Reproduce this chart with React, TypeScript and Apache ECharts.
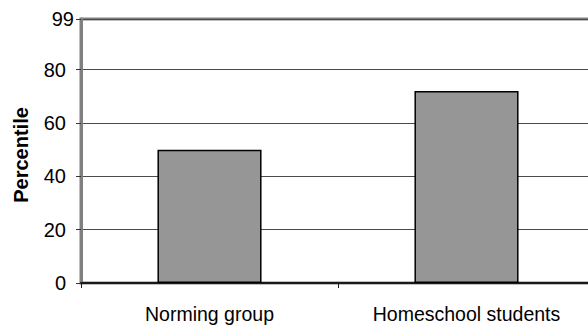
import React, { useEffect, useRef } from "react";
import * as echarts from "echarts";

const categories = ["Norming group", "Homeschool students"];
const percentiles = [50, 72];
const yTicks = [0, 20, 40, 60, 80, 99];

export default function App() {
  const ref = useRef<HTMLDivElement>(null);
  useEffect(() => {
    if (!ref.current) return;
    const chart = echarts.init(ref.current, undefined, { renderer: "svg" });
    const font = "Liberation Sans, Arial, sans-serif";
    chart.setOption({
      animation: false,
      backgroundColor: "#ffffff",
      grid: {
        left: 81,
        top: 19,
        right: 5,
        bottom: 43,
        show: true,
        borderColor: "#808080",
        borderWidth: 3,
        backgroundColor: "transparent",
      },
      xAxis: {
        type: "category",
        data: categories,
        axisLine: { show: true, lineStyle: { color: "#1a1a1a", width: 2 } },
        axisTick: { show: true, length: 5, lineStyle: { color: "#1a1a1a", width: 1 } },
        axisLabel: {
          color: "#000",
          fontFamily: font,
          fontSize: 19.5,
          margin: 21,
        },
      },
      yAxis: {
        type: "value",
        min: yTicks[0],
        max: yTicks[yTicks.length - 1],
        interval: 20,
        name: "Percentile",
        nameLocation: "middle",
        nameGap: 50,
        nameRotate: 90,
        nameTextStyle: {
          color: "#000",
          fontWeight: "bold",
          fontSize: 20,
          fontFamily: font,
          padding: [0, 8, 0, 0],
        },
        axisLine: { show: true, lineStyle: { color: "#808080", width: 3 } },
        axisTick: { show: true, length: 5, lineStyle: { color: "#333", width: 1 } },
        axisLabel: {
          margin: 7,
          formatter: (v: number) => (v === 99 ? "{m|" + v + "}" : "{n|" + v + "}"),
          rich: {
            m: { color: "#000", fontFamily: font, fontSize: 20 },
            n: { color: "#000", fontFamily: font, fontSize: 20, padding: [0, 8, 0, 0] },
          },
        },
        splitLine: { show: true, lineStyle: { color: "#4a4a4a", width: 1 } },
      },
      series: [
        {
          type: "bar",
          data: percentiles,
          barWidth: "40.5%",
          itemStyle: { color: "#969696", borderColor: "#000", borderWidth: 1.5 },
        },
      ],
    });
    return () => chart.dispose();
  }, []);
  return (
    <div
      style={{
        position: "fixed",
        left: 0,
        top: 0,
        width: 588,
        height: 326,
        overflow: "hidden",
      }}
    >
      <div ref={ref} style={{ width: 600, height: 326 }} />
    </div>
  );
}
